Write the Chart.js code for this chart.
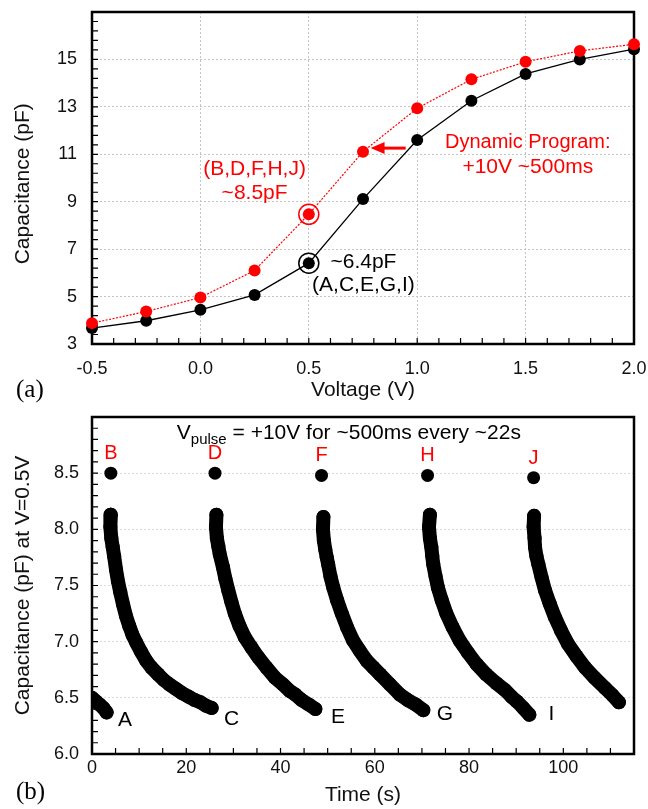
<!DOCTYPE html>
<html>
<head>
<meta charset="utf-8">
<script src="https://cdn.jsdelivr.net/npm/chart.js@4/dist/chart.umd.min.js"></script>
<style>
  body { margin: 0; background: #fff; }
  #wrap { position: relative; width: 648px; height: 809px; }
  canvas { position: absolute; left: 0; }
  #cv { top: 0; }
  #decay { top: 404px; }
</style>
</head>
<body>
<div id="wrap">
  <canvas id="cv" width="648" height="404"></canvas>
  <canvas id="decay" width="648" height="405"></canvas>
</div>
<script>
// (a) C-V sweeps
const voltage = [-0.5, -0.25, 0, 0.25, 0.5, 0.75, 1.0, 1.25, 1.5, 1.75, 2.0];
const capInitial = [3.67, 3.98, 4.44, 5.07, 6.41, 9.11, 11.6, 13.26, 14.39, 15.0, 15.43];
const capProgrammed = [3.88, 4.37, 4.96, 6.1, 8.47, 11.11, 12.94, 14.16, 14.9, 15.36, 15.64];
const cvXTicks = [-0.5, 0, 0.5, 1.0, 1.5, 2.0];
const cvYTicks = [3, 5, 7, 9, 11, 13, 15];

// (b) capacitance at V=0.5V vs time
const pulseTime = [4.0, 26.1, 48.7, 71.2, 93.7];
const pulseCap = [8.50, 8.50, 8.48, 8.48, 8.46];
const pulseNames = ['B', 'D', 'F', 'H', 'J'];
const relaxNames = ['A', 'C', 'E', 'G', 'I'];

const decay0Time = [0.0, 0.8, 1.6, 2.4, 3.1];
const decay0Cap = [6.50, 6.47, 6.44, 6.41, 6.37];
const decay1Time = [4.0, 3.9, 4.1, 4.4, 4.7, 5.1, 5.5, 6.0, 6.6, 7.2, 7.9, 8.6, 9.4, 10.4, 11.5, 12.6, 14.0, 15.2, 16.4, 17.8, 19.2, 20.5, 21.8, 23.0, 24.2, 25.4];
const decay1Cap = [8.13, 8.02, 7.92, 7.84, 7.76, 7.64, 7.54, 7.44, 7.33, 7.23, 7.14, 7.06, 6.99, 6.91, 6.83, 6.77, 6.71, 6.66, 6.62, 6.58, 6.54, 6.51, 6.48, 6.46, 6.43, 6.41];
const decay2Time = [26.4, 26.3, 26.5, 26.8, 27.1, 27.8, 28.3, 28.9, 29.6, 30.3, 31.3, 32.4, 33.8, 35.3, 37.0, 38.8, 40.5, 42.0, 43.1, 44.5, 46.0, 47.4];
const decay2Cap = [8.13, 8.02, 7.92, 7.85, 7.78, 7.66, 7.56, 7.46, 7.35, 7.25, 7.14, 7.04, 6.95, 6.86, 6.77, 6.68, 6.62, 6.56, 6.53, 6.48, 6.44, 6.40];
const decay3Time = [49.1, 49.0, 49.2, 49.5, 49.8, 50.1, 50.6, 51.2, 52.0, 53.0, 54.1, 55.4, 56.8, 58.3, 59.7, 61.1, 63.2, 65.3, 67.0, 68.7, 70.3];
const decay3Cap = [8.11, 8.00, 7.90, 7.82, 7.75, 7.69, 7.58, 7.48, 7.37, 7.25, 7.13, 7.01, 6.92, 6.83, 6.77, 6.71, 6.62, 6.53, 6.48, 6.44, 6.39];
const decay4Time = [71.7, 71.5, 71.7, 72.0, 72.2, 72.4, 72.9, 73.4, 74.2, 75.2, 76.5, 78.0, 79.8, 81.6, 83.6, 85.8, 87.6, 89.0, 90.1, 91.5, 92.8];
const decay4Cap = [8.13, 8.02, 7.92, 7.84, 7.76, 7.69, 7.58, 7.48, 7.37, 7.25, 7.13, 7.01, 6.90, 6.80, 6.71, 6.63, 6.57, 6.51, 6.47, 6.41, 6.35];
const decay5Time = [93.8, 93.7, 93.9, 94.0, 94.3, 94.7, 95.4, 96.1, 97.1, 98.2, 99.5, 101.0, 102.8, 104.6, 106.6, 108.8, 110.5, 111.8];
const decay5Cap = [8.12, 8.02, 7.92, 7.84, 7.76, 7.69, 7.57, 7.46, 7.34, 7.22, 7.10, 6.98, 6.87, 6.77, 6.68, 6.59, 6.52, 6.46];
const tXTicks = [0, 20, 40, 60, 80, 100];
const tYTicks = [6.0, 6.5, 7.0, 7.5, 8.0, 8.5];

const RED = '#ff0000';
const SANS = '"Liberation Sans", Arial, sans-serif';
const SERIF = '"Liberation Serif", "Times New Roman", serif';
const tickFont = { family: SANS, size: 18 };
const titleFont = { family: SANS, size: 21 };

const pts = (xs, ys) => xs.map((x, i) => ({ x, y: ys[i] }));
const range = (a, b, step) => { const out = []; for (let v = a; v <= b + 1e-9; v += step) out.push(v); return out; };
// keep the plot box exactly where the layout padding puts it
const fixHeight = h => s => { s.height = h; s.paddingLeft = 0; s.paddingRight = 0; };
const fixWidth = w => s => { s.width = w; s.paddingTop = 0; s.paddingBottom = 0; };

// box + inward ticks
function framePlugin(hook, xMinor, yMinor) {
  return {
    id: 'frame',
    [hook](chart) {
      const { ctx, chartArea: a, scales: { x, y } } = chart;
      ctx.save();
      ctx.strokeStyle = '#000';
      ctx.lineWidth = 1.2;
      ctx.beginPath();
      xMinor.forEach(v => { const p = x.getPixelForValue(v); ctx.moveTo(p, a.bottom); ctx.lineTo(p, a.bottom - 6); });
      yMinor.forEach(v => { const p = y.getPixelForValue(v); ctx.moveTo(a.left, p); ctx.lineTo(a.left + 6, p); });
      ctx.stroke();
      ctx.lineWidth = 2.5;
      ctx.strokeRect(a.left, a.top, a.right - a.left, a.bottom - a.top);
      ctx.restore();
    }
  };
}

const cvNotes = {
  id: 'cvNotes',
  afterDatasetsDraw(chart) {
    const { ctx, scales: { x, y } } = chart;
    const px = v => x.getPixelForValue(v), py = v => y.getPixelForValue(v);
    ctx.save();
    ctx.textBaseline = 'middle';
    ctx.textAlign = 'center';
    ctx.fillStyle = RED;
    ctx.font = '21px ' + SANS;
    ctx.fillText('(B,D,F,H,J)', px(0.25), py(10.35));
    ctx.fillText('~8.5pF', px(0.25), py(9.37));
    ctx.fillText('+10V ~500ms', px(1.51), py(10.45));
    ctx.font = '20px ' + SANS;
    ctx.fillText('Dynamic Program:', px(1.51), py(11.48));
    // arrow to the programmed point
    const ay = py(11.26), x0 = px(0.947), tip = px(0.785);
    ctx.strokeStyle = RED;
    ctx.lineWidth = 3;
    ctx.beginPath(); ctx.moveTo(x0, ay); ctx.lineTo(tip + 10, ay); ctx.stroke();
    ctx.beginPath(); ctx.moveTo(tip, ay); ctx.lineTo(tip + 14, ay - 6); ctx.lineTo(tip + 14, ay + 6); ctx.closePath(); ctx.fill();

    ctx.fillStyle = '#000';
    ctx.textAlign = 'left';
    ctx.font = '21px ' + SANS;
    ctx.fillText('~6.4pF', px(0.60), py(6.44));
    ctx.fillText('(A,C,E,G,I)', px(0.515), py(5.46));
    ctx.font = '25px ' + SERIF;
    ctx.fillText('(a)', 16, 390);
    ctx.restore();
  }
};

new Chart(document.getElementById('cv'), {
  type: 'scatter',
  data: {
    datasets: [
      { data: [{ x: voltage[4], y: capProgrammed[4] }], pointRadius: 10, pointBorderWidth: 1.5,
        pointBorderColor: RED, pointBackgroundColor: 'rgba(0,0,0,0)', clip: false, order: 0 },
      { data: [{ x: voltage[4], y: capInitial[4] }], pointRadius: 10, pointBorderWidth: 1.5,
        pointBorderColor: '#000', pointBackgroundColor: 'rgba(0,0,0,0)', clip: false, order: 0 },
      { data: pts(voltage, capProgrammed), showLine: true, borderColor: RED, borderWidth: 1.2, borderDash: [2, 1.5],
        pointRadius: 6, pointBorderWidth: 0, pointBackgroundColor: RED, clip: false, order: 1 },
      { data: pts(voltage, capInitial), showLine: true, borderColor: '#000', borderWidth: 1.3,
        pointRadius: 6, pointBorderWidth: 0, pointBackgroundColor: '#000', clip: false, order: 2 }
    ]
  },
  options: {
    responsive: false,
    animation: false,
    devicePixelRatio: 1,
    layout: { padding: { top: 12, right: 14, left: 0, bottom: 0 } },
    plugins: { legend: { display: false }, tooltip: { enabled: false } },
    scales: {
      x: {
        type: 'linear', min: -0.5, max: 2.0,
        afterBuildTicks: s => { s.ticks = cvXTicks.map(v => ({ value: v })); },
        afterFit: fixHeight(60),
        ticks: { font: tickFont, color: '#111', padding: 14, maxRotation: 0, callback: v => v.toFixed(1) },
        grid: { color: '#c4c4c4', lineWidth: 1, drawTicks: false },
        border: { display: false, dash: [2, 2] },
        title: { display: true, text: 'Voltage (V)', font: titleFont, color: '#111', padding: { top: 0, bottom: 1 } }
      },
      y: {
        type: 'linear', min: 3, max: 17,
        afterBuildTicks: s => { s.ticks = cvYTicks.map(v => ({ value: v })); },
        afterFit: fixWidth(92),
        ticks: { font: tickFont, color: '#111', padding: 15 },
        grid: { color: '#c4c4c4', lineWidth: 1, drawTicks: false },
        border: { display: false, dash: [2, 2] },
        title: { display: true, text: 'Capacitance (pF)  ', font: titleFont, color: '#111', padding: { top: 11, bottom: 0 } }
      }
    }
  },
  plugins: [framePlugin('beforeDatasetsDraw', range(-0.5, 2.0, 0.1), range(3, 17, 0.4)), cvNotes]
});

const decayNotes = {
  id: 'decayNotes',
  afterDatasetsDraw(chart) {
    const { ctx, scales: { x, y } } = chart;
    const px = v => x.getPixelForValue(v), py = v => y.getPixelForValue(v);
    ctx.save();
    ctx.textAlign = 'center';
    ctx.textBaseline = 'middle';
    ctx.fillStyle = RED;
    ctx.font = '20px ' + SANS;
    pulseNames.forEach((n, i) => ctx.fillText(n, px(pulseTime[i]), py(pulseCap[i]) - 19.5));
    ctx.fillStyle = '#000';
    ctx.font = '21px ' + SANS;
    const relaxAt = [[7.0, 6.30], [29.6, 6.31], [52.2, 6.33], [74.9, 6.35], [97.5, 6.35]];
    relaxNames.forEach((n, i) => ctx.fillText(n, px(relaxAt[i][0]), py(relaxAt[i][1])));
    // V_pulse caption
    ctx.textAlign = 'left';
    ctx.textBaseline = 'alphabetic';
    let cx = px(18.0);
    const base = py(8.80);
    ctx.fillText('V', cx, base);
    cx += ctx.measureText('V').width;
    ctx.font = '15px ' + SANS;
    ctx.fillText('pulse', cx, base + 5);
    cx += ctx.measureText('pulse').width;
    ctx.font = '21px ' + SANS;
    ctx.fillText(' = +10V for ~500ms every ~22s', cx, base);
    ctx.font = '25px ' + SERIF;
    ctx.textBaseline = 'middle';
    ctx.fillText('(b)', 16, 388);
    ctx.restore();
  }
};

const decayStyle = {
  showLine: true, borderColor: '#000', borderWidth: 14, borderCapStyle: 'round', borderJoinStyle: 'round',
  pointRadius: 7, pointBorderWidth: 0, pointBackgroundColor: '#000', clip: 0
};

new Chart(document.getElementById('decay'), {
  type: 'scatter',
  data: {
    datasets: [
      { data: pts(pulseTime, pulseCap), pointRadius: 6.5, pointBorderWidth: 0, pointBackgroundColor: '#000' },
      { ...decayStyle, data: pts(decay0Time, decay0Cap) },
      { ...decayStyle, data: pts(decay1Time, decay1Cap) },
      { ...decayStyle, data: pts(decay2Time, decay2Cap) },
      { ...decayStyle, data: pts(decay3Time, decay3Cap) },
      { ...decayStyle, data: pts(decay4Time, decay4Cap) },
      { ...decayStyle, data: pts(decay5Time, decay5Cap) }
    ]
  },
  options: {
    responsive: false,
    animation: false,
    devicePixelRatio: 1,
    layout: { padding: { top: 13, right: 14, left: 0, bottom: 0 } },
    plugins: { legend: { display: false }, tooltip: { enabled: false } },
    scales: {
      x: {
        type: 'linear', min: 0, max: 115,
        afterBuildTicks: s => { s.ticks = tXTicks.map(v => ({ value: v })); },
        afterFit: fixHeight(55),
        ticks: { font: tickFont, color: '#111', padding: 3, maxRotation: 0 },
        grid: { display: false, drawTicks: false },
        border: { display: false },
        title: { display: true, text: 'Time (s)', font: titleFont, color: '#111', padding: { top: 0, bottom: 1 } }
      },
      y: {
        type: 'linear', min: 6, max: 9,
        afterBuildTicks: s => { s.ticks = tYTicks.map(v => ({ value: v })); },
        afterFit: fixWidth(92),
        ticks: { font: tickFont, color: '#111', padding: 13, callback: v => v.toFixed(1) },
        grid: { color: '#dadada', lineWidth: 1, drawTicks: false },
        border: { display: false, dash: [2, 2] },
        title: { display: true, text: 'Capacitance (pF) at V=0.5V', font: titleFont, color: '#111', padding: { top: 11, bottom: 0 } }
      }
    }
  },
  plugins: [framePlugin('afterDatasetsDraw', range(0, 115, 5), range(6, 9, 0.1)), decayNotes]
});
</script>
</body>
</html>
